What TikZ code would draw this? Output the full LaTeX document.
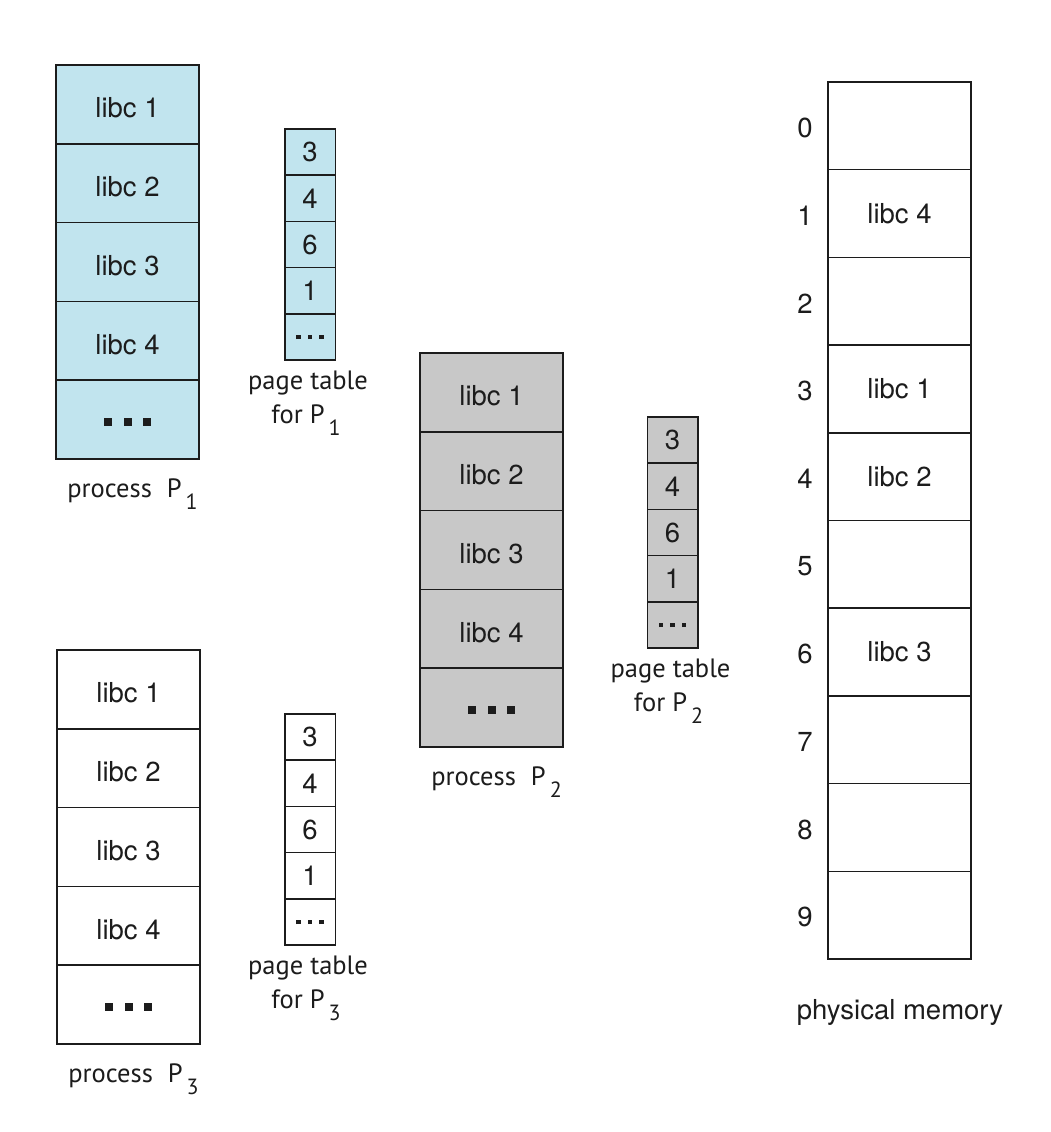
\documentclass[tikz,border=0pt]{standalone}
\usepackage{fontspec}
\setmainfont{TeX Gyre Heros}
\newfontfamily\lblfont{PT Sans}
\definecolor{pblue}{HTML}{C1E4EE}
\definecolor{pgray}{HTML}{C8C8C8}
\definecolor{ink}{HTML}{1C1C1C}
\newcommand\bigdots{\rule{8pt}{8pt}\hspace{11.5pt}\rule{8pt}{8pt}\hspace{11.5pt}\rule{8pt}{8pt}}
\newcommand\smalldots{\rule{4.5pt}{4.5pt}\hspace{7pt}\rule{4.5pt}{4.5pt}\hspace{7pt}\rule{4.5pt}{4.5pt}}
\newcommand\subnum[1]{\hspace{4pt}\raisebox{-12pt}{\fontsize{22}{22}\selectfont #1}}
\tikzset{
  box/.style={draw=ink, line width=1.5pt, rectangle, inner sep=0pt, text=ink,
    font=\fontsize{27.5}{27.5}\selectfont},
  pcell/.style={box, minimum width=143pt, minimum height=78.8pt},
  ptext/.style={text height=27pt, text depth=0pt},
  dtext/.style={text height=13pt, text depth=0pt},
  tcell/.style={box, minimum width=50.5pt, minimum height=46.2pt},
  mcell/.style={box, minimum width=143pt, minimum height=87.7pt},
  lbl/.style={inner sep=0pt, text=ink, font=\lblfont\fontsize{26.5}{26.5}\selectfont},
  num/.style={inner sep=0pt, text=ink, font=\fontsize{27.5}{27.5}\selectfont},
}
\begin{document}
\begin{tikzpicture}[x=1pt,y=-1pt]
\useasboundingbox[fill=white] (0,0) rectangle (1050,1132);

% process P1
\foreach \t [count=\i] in {libc 1,libc 2,libc 3,libc 4}
  \node[pcell, ptext, fill=pblue] (pa\i) at (127.5,{65+78.8*(\i-0.5)}) {\t};
\node[pcell, dtext, fill=pblue] (pa5) at (127.5,{65+78.8*4.5}) {\bigdots};
\node[lbl, anchor=base] (pal) at (132.5,497) {process\hspace{15pt}P\subnum{1}};
% page table P1
\foreach \t [count=\i] in {3,4,6,1,\smalldots}
  \node[tcell, fill=pblue] (ta\i) at (310,{129+46.2*(\i-0.5)}) {\t};
\node[lbl, anchor=base] (tal1) at (308,389) {page table};
\node[lbl, anchor=base] (tal2) at (306,423) {for P\subnum{1}};

% process P2
\foreach \t [count=\i] in {libc 1,libc 2,libc 3,libc 4}
  \node[pcell, ptext, fill=pgray] (pb\i) at (491.5,{353+78.8*(\i-0.5)}) {\t};
\node[pcell, dtext, fill=pgray] (pb5) at (491.5,{353+78.8*4.5}) {\bigdots};
\node[lbl, anchor=base] (pbl) at (496.5,785) {process\hspace{15pt}P\subnum{2}};
% page table P2
\foreach \t [count=\i] in {3,4,6,1,\smalldots}
  \node[tcell, fill=pgray] (tb\i) at (672.5,{417+46.2*(\i-0.5)}) {\t};
\node[lbl, anchor=base] (tbl1) at (670.5,677) {page table};
\node[lbl, anchor=base] (tbl2) at (668.5,711) {for P\subnum{2}};

% process P3
\foreach \t [count=\i] in {libc 1,libc 2,libc 3,libc 4}
  \node[pcell, ptext, fill=white] (pc\i) at (128.5,{650+78.8*(\i-0.5)}) {\t};
\node[pcell, dtext, fill=white] (pc5) at (128.5,{650+78.8*4.5}) {\bigdots};
\node[lbl, anchor=base] (pcl) at (133.5,1082) {process\hspace{15pt}P\subnum{3}};
% page table P3
\foreach \t [count=\i] in {3,4,6,1,\smalldots}
  \node[tcell, fill=white] (tc\i) at (310,{714+46.2*(\i-0.5)}) {\t};
\node[lbl, anchor=base] (tcl1) at (308,974) {page table};
\node[lbl, anchor=base] (tcl2) at (306,1008) {for P\subnum{3}};

% physical memory
\foreach \t [count=\i] in {{},libc 4,{},libc 1,libc 2,{},libc 3,{},{},{}}
  \node[mcell, fill=white] (m\i) at (899.5,{82+87.7*(\i-0.5)}) {\t};
\foreach \n [count=\i] in {0,...,9}
  \node[num] (mn\i) at (805,{82+87.7*(\i-0.5)+2}) {\n};
\node[num, anchor=base] (mlbl) at (900,1019) {physical memory};
\end{tikzpicture}
\end{document}
